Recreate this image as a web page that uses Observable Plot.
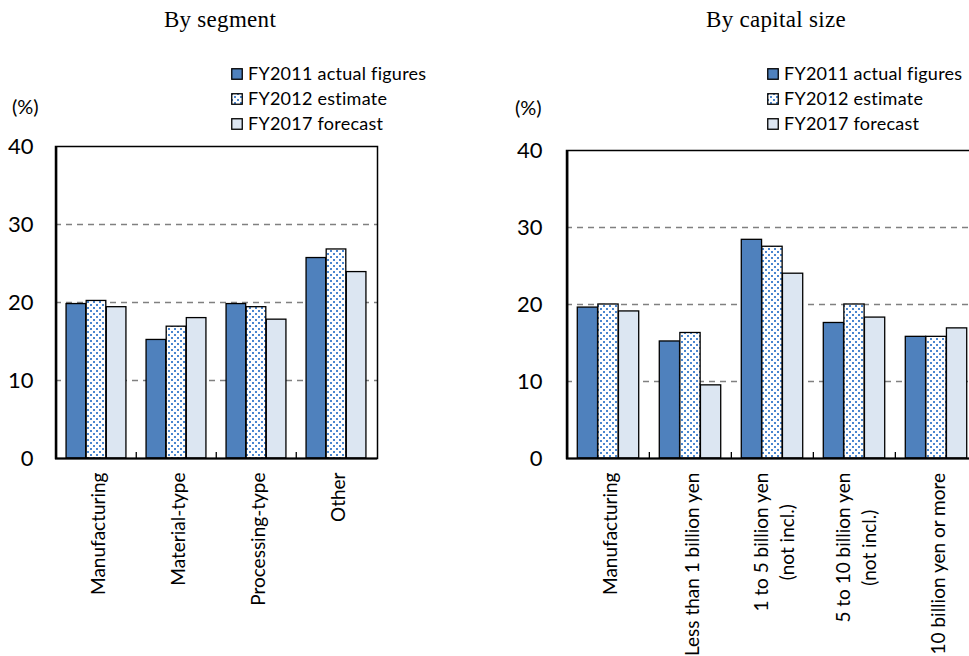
<!DOCTYPE html>
<html>
<head>
<meta charset="utf-8">
<script src="https://cdn.jsdelivr.net/npm/d3@7"></script>
<script src="https://cdn.jsdelivr.net/npm/@observablehq/plot@0.6"></script>
<style>
  html, body { margin: 0; padding: 0; background: #fff; overflow: hidden; }
  #page { position: relative; width: 969px; height: 656px; overflow: hidden; background: #fff; font-family: Lato, "Noto Sans", sans-serif; color: #000; }
  .title { position: absolute; top: 8px; width: 300px; text-align: center; font-family: "Liberation Serif", "Times New Roman", serif; font-size: 23px; line-height: 23px; letter-spacing: 0.3px; white-space: nowrap; }
  .unit { position: absolute; top: 93px; font-size: 20px; line-height: 26px; white-space: nowrap; }
  .legend { position: absolute; top: 61px; font-size: 18px; letter-spacing: 0.25px; }
  .legend .row { display: flex; align-items: center; height: 25px; line-height: 25px; white-space: nowrap; }
  .legend svg { margin-right: 5px; flex: none; }
  .panel { position: absolute; }
</style>
</head>
<body>
<div id="page"></div>
<script>
// Ratio of ordinary profit, FY2011 / FY2012 / FY2017, by segment and by capital size (%)
const seriesNames = ["FY2011 actual figures", "FY2012 estimate", "FY2017 forecast"];

const segmentCategories = ["Manufacturing", "Material-type", "Processing-type", "Other"];
const segmentFY2011 = [19.8, 15.2, 19.8, 25.7];
const segmentFY2012 = [20.2, 16.9, 19.4, 26.8];
const segmentFY2017 = [19.4, 18.0, 17.8, 23.9];

const capitalCategories = [
  "Manufacturing",
  "Less than 1 billion yen",
  "1 to 5 billion yen\n(not incl.)",
  "5 to 10 billion yen\n(not incl.)",
  "10 billion yen or more"
];
const capitalFY2011 = [19.6, 15.2, 28.4, 17.6, 15.8];
const capitalFY2012 = [20.0, 16.3, 27.5, 20.0, 15.8];
const capitalFY2017 = [19.1, 9.5, 24.0, 18.3, 16.9];

const yTicks = [0, 10, 20, 30, 40];

const BLUE = "#4f81bd";
const DOT = "#4a86cf";
const LIGHT = "#dce6f2";
const LABEL_FONT = 19;

const page = document.getElementById("page");
const measureCtx = document.createElement("canvas").getContext("2d");
function textWidth(s, px) {
  measureCtx.font = `${px}px Lato`;
  return measureCtx.measureText(s).width;
}

const patternMarkup = id =>
  `<pattern id="${id}" patternUnits="userSpaceOnUse" width="6" height="6">` +
  `<rect width="6" height="6" fill="#fff"/>` +
  `<rect x="0" y="0" width="2" height="2" fill="${DOT}"/>` +
  `<rect x="3" y="3" width="2" height="2" fill="${DOT}"/></pattern>`;

// Blue dotted fill used for the FY2012 bars
function addDotPattern(svgNode, id) {
  const defs = document.createElementNS("http://www.w3.org/2000/svg", "defs");
  defs.innerHTML = patternMarkup(id);
  svgNode.insertBefore(defs, svgNode.firstChild);
}

function addDiv(cls, left, text, extra = {}) {
  const d = document.createElement("div");
  d.className = cls;
  d.style.left = left + "px";
  if (text != null) d.textContent = text;
  Object.assign(d.style, extra);
  page.appendChild(d);
  return d;
}

function addLegend(left, patternId) {
  const box = addDiv("legend", left, null);
  const fills = [BLUE, `url(#${patternId})`, LIGHT];
  const ns = "http://www.w3.org/2000/svg";
  seriesNames.forEach((name, i) => {
    const row = document.createElement("div");
    row.className = "row";
    const sw = document.createElementNS(ns, "svg");
    sw.setAttribute("width", 12); sw.setAttribute("height", 12);
    if (i === 1) {
      const defs = document.createElementNS(ns, "defs");
      defs.innerHTML = patternMarkup(patternId);
      sw.appendChild(defs);
    }
    const r = document.createElementNS(ns, "rect");
    r.setAttribute("x", 0.75); r.setAttribute("y", 0.75);
    r.setAttribute("width", 10.5); r.setAttribute("height", 10.5);
    r.setAttribute("fill", fills[i]); r.setAttribute("stroke", "#000"); r.setAttribute("stroke-width", 1.3);
    sw.appendChild(r);
    row.appendChild(sw);
    row.appendChild(document.createTextNode(name));
    box.appendChild(row);
  });
}

function panel({categories, values, left, top, width, height, marginLeft, marginRight, marginTop, marginBottom, tickPadding, patternId}) {
  const plotW = width - marginLeft - marginRight;
  const plotH = height - marginTop - marginBottom;
  const bw = plotW / categories.length;
  const barW = bw / 4, gap = bw / 8;
  const fills = [BLUE, `url(#${patternId})`, LIGHT];

  const bars = values.map((vals, i) =>
    Plot.barY(categories.map((c, j) => ({category: c, value: vals[j]})), {
      x: "category", y: "value",
      fill: fills[i], stroke: "#000", strokeWidth: 1.3,
      insetLeft: gap + i * barW,
      insetRight: bw - gap - (i + 1) * barW
    })
  );

  const labels = categories.map(c => {
    const w = Math.max(...c.split("\n").map(s => textWidth(s, LABEL_FONT)));
    return Plot.text([c], {
      x: d => d, y: () => 0, text: d => d,
      rotate: -90, textAnchor: "middle", lineAnchor: "middle", lineHeight: 1.4,
      fontSize: LABEL_FONT, fontFamily: "Lato", fill: "#000",
      dy: 14 + w / 2
    });
  });

  const unitsPerPx = 40 / plotH;

  const svg = Plot.plot({
    width, height, marginLeft, marginRight, marginTop, marginBottom,
    style: {fontFamily: "Lato", fontSize: "22px", color: "#000", background: "transparent", overflow: "visible"},
    x: {domain: categories, padding: 0, axis: null},
    y: {domain: [0, 40], ticks: yTicks, tickSize: 0, tickPadding, label: null},
    marks: [
      Plot.ruleY(yTicks.filter(t => t > 0 && t < 40), {stroke: "#808080", strokeWidth: 1.3, strokeDasharray: "6,5"}),
      ...bars,
      Plot.ruleX(categories.slice(1), {x: d => d, y1: 0, y2: 6 * unitsPerPx, dx: -bw / 2, stroke: "#000", strokeWidth: 1.3}),
      Plot.frame({stroke: "#000", strokeWidth: 1.5}),
      Plot.ruleY([0], {stroke: "#000", strokeWidth: 2.2}),
      Plot.ruleX([categories[0]], {x: d => d, y1: 0, y2: 40, dx: -bw / 2, stroke: "#000", strokeWidth: 2.2}),
      ...labels
    ]
  });
  addDotPattern(svg, patternId);
  svg.classList.add("panel");
  svg.style.left = left + "px";
  svg.style.top = top + "px";
  page.appendChild(svg);
}

// Left: by segment
addDiv("title", 70, "By segment");
addDiv("unit", 12, "(%)");
addLegend(231, "dotsLegendA");
panel({
  categories: segmentCategories,
  values: [segmentFY2011, segmentFY2012, segmentFY2017],
  left: 0, top: 130, width: 388, height: 526,
  marginLeft: 55, marginRight: 11, marginTop: 16, marginBottom: 198,
  tickPadding: 22, patternId: "dotsA"
});

// Right: by capital size
addDiv("title", 626, "By capital size");
addDiv("unit", 515, "(%)", {top: "94px"});
addLegend(767, "dotsLegendB");
panel({
  categories: capitalCategories,
  values: [capitalFY2011, capitalFY2012, capitalFY2017],
  left: 480, top: 134, width: 508, height: 522,
  marginLeft: 86, marginRight: 10.5, marginTop: 16, marginBottom: 198,
  tickPadding: 24, patternId: "dotsB"
});
</script>
</body>
</html>
